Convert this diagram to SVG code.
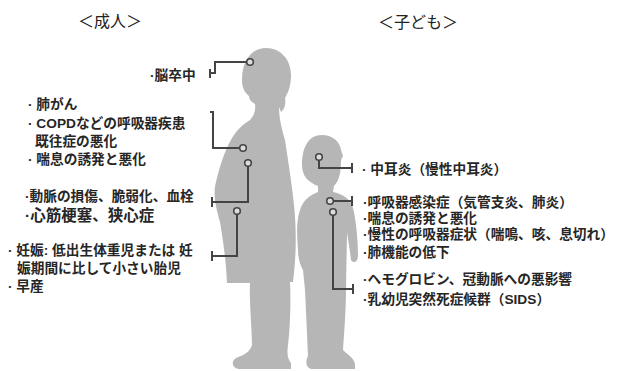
<svg xmlns="http://www.w3.org/2000/svg" width="627" height="371" viewBox="0 0 627 371">
  <style>
    .fig { fill: #b6b6b6; }
    .lbl { font-family: "Liberation Sans", "Noto Sans CJK JP", sans-serif; fill: #262626; font-size: 13.7px; font-weight: bold; }
    .hdr { font-family: "Noto Sans CJK JP", "Noto Sans", sans-serif; fill: #222; font-size: 16px; }
    .wire { fill: none; stroke: #444; stroke-width: 2; stroke-linejoin: miter; }
    .dot { fill: #dcdcdc; stroke: #444; stroke-width: 1.6; }
  </style>
  <rect width="627" height="371" fill="#ffffff"/>

  <!-- silhouettes -->
  <g id="adult-figure">
    <path class="fig" d="M266,48 C281,48 291,60 291,75 C291,86 288,93 285,98 C286,103 285,109 281,112 L279,107 C279,118 282,130 285,140 C288,160 292,185 294,205 C296,225 297,250 293,282 L290,282 C291,300 290,330 288,345 C287,352 287,358 291,363 L291,369 L240,369 C233,369 230,362 236,358 C244,355 250,352 252,345 C252,330 249,300 250,283 L227,283 C226,260 223,240 220,222 C215,205 213,192 216,182 C220,165 225,150 232,138 C238,128 244,124 250,120 C254,116 256,110 255,104 C251,102 249,99 249,96 C245,93 242,88 242,80 C242,60 252,48 266,48 Z"/>
  </g>
  <g id="child-figure">
    <path class="fig" d="M322,135 C333,135 340,142 341,150 L343,156 L341,160 C341,170 340,180 334,186 L333,192 C342,194 350,198 353,208 C356,220 358,240 358,255 C358,262 354,264 351,260 C350,250 348,240 347,232 L346,290 C346,310 344,335 343,350 C348,355 354,358 355,364 L355,369 L312,369 C306,368 305,362 308,356 C307,335 306,310 305,290 L303,270 C300,265 298,258 298,250 C297,235 296,222 300,210 C303,200 310,195 318,192 L318,186 C308,182 302,176 302,165 C302,148 308,135 322,135 Z"/>
  </g>

  <!-- leader lines -->
  <g id="connectors">
    <path class="wire" d="M250,62 H215 V73 H210 M210,69 V78"/>
    <path class="wire" d="M243,148 H213 V112 H210"/>
    <path class="wire" d="M248,163 V202 H212 M212,197 V207"/>
    <path class="wire" d="M237,211 V256 H212 M212,251 V261"/>
    <path class="wire" d="M319,157 V168 H352 M352,163 V173"/>
    <path class="wire" d="M330,201 H352 M352,196 V206"/>
    <path class="wire" d="M333,212 V289 H353 M353,284 V294"/>
    <circle class="dot" cx="250" cy="62" r="3.3"/>
    <circle class="dot" cx="243" cy="148" r="3.3"/>
    <circle class="dot" cx="248" cy="163" r="3.3"/>
    <circle class="dot" cx="237" cy="211" r="3.3"/>
    <circle class="dot" cx="319" cy="157" r="3.3"/>
    <circle class="dot" cx="330" cy="201" r="3.3"/>
    <circle class="dot" cx="333" cy="212" r="3.3"/>
  </g>

  <!-- headings -->
  <g id="head-adult"><text class="hdr" x="78" y="27">＜成人＞</text></g>
  <g id="head-child"><text class="hdr" x="378" y="28">＜子ども＞</text></g>

  <!-- adult effects -->
  <g id="adult-stroke"><text class="lbl" x="150" y="79.5">·脳卒中</text></g>
  <g id="adult-lung">
    <text class="lbl" x="28" y="108.5">· 肺がん<tspan x="28" y="127.5">· COPDなどの呼吸器疾患</tspan><tspan x="35" y="145.5">既往症の悪化</tspan><tspan x="28" y="163.5">· 喘息の誘発と悪化</tspan></text>
  </g>
  <g id="adult-heart">
    <text class="lbl" x="25" y="200.5">·動脈の損傷、脆弱化、血栓<tspan x="25" y="221" style="font-size:15.5px">·心筋梗塞、狭心症</tspan></text>
  </g>
  <g id="adult-pregnancy">
    <text class="lbl" x="8" y="255">· 妊娠: 低出生体重児または 妊<tspan x="17" y="273">娠期間に比して小さい胎児</tspan><tspan x="8" y="291">· 早産</tspan></text>
  </g>

  <!-- child effects -->
  <g id="child-ear"><text class="lbl" x="362" y="173.5">· 中耳炎（慢性中耳炎）</text></g>
  <g id="child-lung">
    <text class="lbl" x="363" y="207">·呼吸器感染症（気管支炎、肺炎）<tspan x="363" y="223">·喘息の誘発と悪化</tspan><tspan x="363" y="239">·慢性の呼吸器症状（喘鳴、咳、息切れ）</tspan><tspan x="363" y="257">·肺機能の低下</tspan></text>
  </g>
  <g id="child-blood">
    <text class="lbl" x="363" y="283.5">·ヘモグロビン、冠動脈への悪影響<tspan x="363" y="303.5">·乳幼児突然死症候群（SIDS）</tspan></text>
  </g>
</svg>
